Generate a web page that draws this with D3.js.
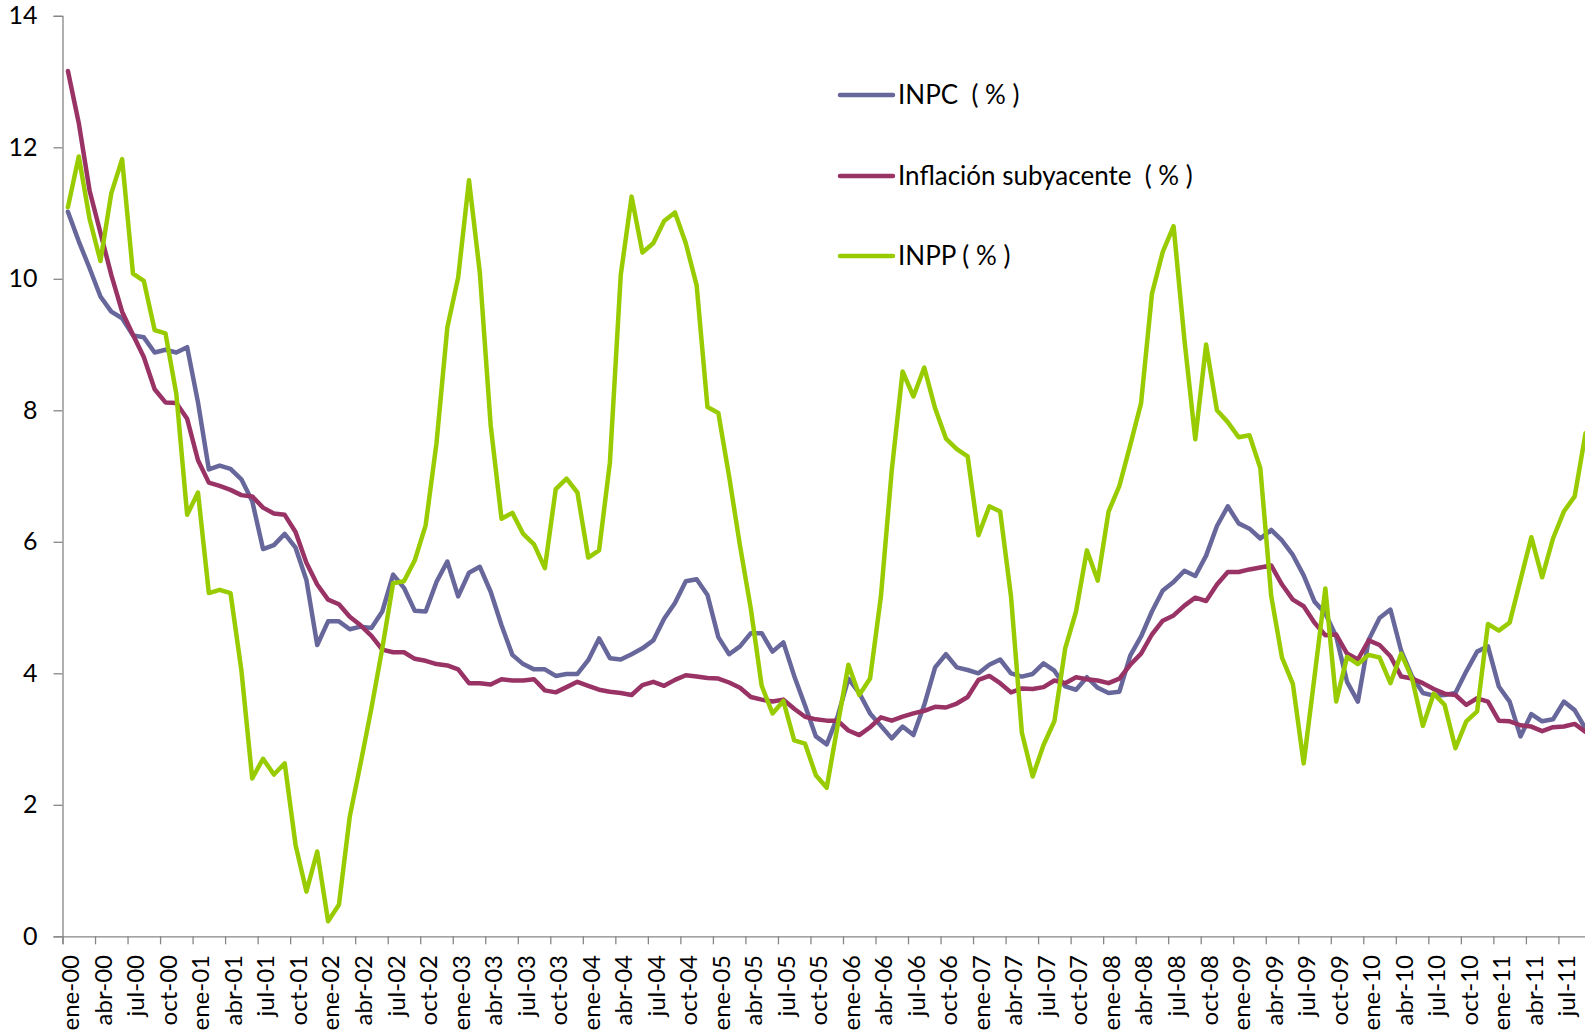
<!DOCTYPE html>
<html>
<head>
<meta charset="utf-8">
<script src="https://cdn.jsdelivr.net/npm/d3@7"></script>
<style>
  html, body { margin: 0; padding: 0; background: #fff; }
  svg { display: block; }
  text { font-family: Lato, "Open Sans", sans-serif; fill: #000; }
</style>
</head>
<body>
<svg id="chart" width="1585" height="1030"></svg>
<script>
// ---- data (monthly, ene-00 .. sep-11) ----
const monthNames = ["ene","feb","mar","abr","may","jun","jul","ago","sep","oct","nov","dic"];
const years = ["00","01","02","03","04","05","06","07","08","09","10","11"];
const categories = [];
years.forEach(y => monthNames.forEach(m => categories.push(m + "-" + y)));
categories.length = 141;

const inpc = [
  11.02, 10.57, 10.16, 9.73, 9.50, 9.40, 9.14, 9.11, 8.88, 8.92, 8.88, 8.96,
  8.12, 7.10, 7.16, 7.11, 6.95, 6.62, 5.89, 5.95, 6.12, 5.91, 5.42, 4.43,
  4.79, 4.79, 4.67, 4.71, 4.69, 4.94, 5.50, 5.30, 4.95, 4.94, 5.39, 5.70,
  5.17, 5.53, 5.62, 5.24, 4.73, 4.28, 4.14, 4.06, 4.06, 3.96, 3.99, 3.99,
  4.20, 4.53, 4.23, 4.21, 4.29, 4.38, 4.50, 4.83, 5.07, 5.40, 5.43, 5.19,
  4.55, 4.29, 4.41, 4.61, 4.61, 4.33, 4.47, 3.96, 3.51, 3.04, 2.92, 3.34,
  3.92, 3.70, 3.39, 3.20, 3.01, 3.19, 3.06, 3.52, 4.09, 4.29, 4.09, 4.05,
  4.00, 4.13, 4.21, 4.00, 3.95, 3.99, 4.15, 4.04, 3.80, 3.75, 3.94, 3.78,
  3.70, 3.72, 4.27, 4.56, 4.94, 5.26, 5.39, 5.56, 5.48, 5.79, 6.24, 6.54,
  6.28, 6.20, 6.05, 6.18, 6.02, 5.80, 5.49, 5.09, 4.91, 4.56, 3.87, 3.57,
  4.51, 4.84, 4.97, 4.34, 3.95, 3.70, 3.66, 3.67, 3.70, 4.03, 4.33, 4.41,
  3.80, 3.57, 3.04, 3.38, 3.27, 3.30, 3.57, 3.44, 3.16
];

const subyacente = [
  13.16, 12.37, 11.34, 10.70, 10.06, 9.50, 9.15, 8.81, 8.32, 8.12, 8.11, 7.87,
  7.24, 6.90, 6.85, 6.79, 6.71, 6.69, 6.52, 6.43, 6.41, 6.15, 5.68, 5.35,
  5.12, 5.05, 4.86, 4.73, 4.57, 4.36, 4.32, 4.32, 4.22, 4.19, 4.14, 4.12,
  4.06, 3.85, 3.85, 3.83, 3.91, 3.89, 3.89, 3.91, 3.74, 3.71, 3.79, 3.87,
  3.81, 3.75, 3.72, 3.70, 3.67, 3.82, 3.87, 3.81, 3.90, 3.97, 3.95, 3.93,
  3.92, 3.86, 3.78, 3.64, 3.60, 3.57, 3.60, 3.46, 3.34, 3.30, 3.28, 3.28,
  3.13, 3.06, 3.18, 3.33, 3.28, 3.34, 3.39, 3.43, 3.49, 3.48, 3.54, 3.64,
  3.90, 3.96, 3.85, 3.71, 3.77, 3.76, 3.79, 3.89, 3.85, 3.94, 3.91, 3.89,
  3.85, 3.92, 4.13, 4.30, 4.59, 4.80, 4.88, 5.03, 5.15, 5.10, 5.35, 5.54,
  5.54, 5.58, 5.61, 5.64, 5.35, 5.12, 5.02, 4.77, 4.58, 4.59, 4.30, 4.21,
  4.50, 4.43, 4.26, 3.95, 3.92, 3.85, 3.76, 3.69, 3.67, 3.52, 3.62, 3.57,
  3.28, 3.27, 3.21, 3.19, 3.12, 3.18, 3.19, 3.23, 3.11
];

const inpp = [
  11.09, 11.86, 10.91, 10.27, 11.30, 11.82, 10.08, 9.97, 9.22, 9.17, 8.25, 6.41,
  6.75, 5.22, 5.27, 5.22, 4.05, 2.40, 2.70, 2.46, 2.63, 1.39, 0.68, 1.29,
  0.23, 0.48, 1.82, 2.63, 3.47, 4.38, 5.37, 5.40, 5.72, 6.25, 7.50, 9.26,
  10.02, 11.50, 10.09, 7.77, 6.35, 6.44, 6.12, 5.96, 5.60, 6.80, 6.96, 6.75,
  5.76, 5.87, 7.21, 10.06, 11.25, 10.40, 10.54, 10.88, 11.01, 10.54, 9.90, 8.05,
  7.96, 6.99, 5.94, 4.98, 3.81, 3.39, 3.58, 2.98, 2.93, 2.45, 2.26, 3.20,
  4.13, 3.67, 3.92, 5.17, 7.09, 8.59, 8.21, 8.65, 8.03, 7.57, 7.41, 7.30,
  6.10, 6.54, 6.46, 5.17, 3.10, 2.43, 2.91, 3.27, 4.38, 4.94, 5.87, 5.41,
  6.46, 6.85, 7.47, 8.11, 9.77, 10.41, 10.80, 9.07, 7.56, 9.00, 8.00, 7.82,
  7.59, 7.62, 7.12, 5.18, 4.24, 3.84, 2.63, 3.95, 5.29, 3.57, 4.25, 4.14,
  4.28, 4.24, 3.85, 4.30, 3.92, 3.20, 3.69, 3.52, 2.86, 3.27, 3.42, 4.75,
  4.65, 4.77, 5.42, 6.07, 5.46, 6.05, 6.46, 6.69, 7.65
];

const yTicks = [0, 2, 4, 6, 8, 10, 12, 14];

const seriesNames = ["INPC  ( % )", "Inflación subyacente  ( % )", "INPP ( % )"];
const seriesColors = ["#67679b", "#993366", "#99cc00"];
const seriesData = [inpc, subyacente, inpp];

// ---- layout ----
const svg = d3.select("#chart");
const x0 = 62.5, monthW = 10.84;
const x = d3.scaleBand()
  .domain(d3.range(categories.length))
  .range([x0, x0 + categories.length * monthW])
  .paddingInner(0).paddingOuter(0);
const xb = d3.scaleLinear().domain([0, categories.length]).range([x0, x0 + categories.length * monthW]);
const y = d3.scaleLinear().domain([0, 14]).range([936.3, 15.8]);

const axisColor = "#868686";

// y axis
const yAxis = svg.append("g")
  .attr("transform", `translate(${x0},0)`)
  .call(d3.axisLeft(y).tickValues(yTicks).tickSize(9).tickPadding(16).tickFormat(d3.format("d")));
yAxis.select(".domain").attr("stroke", axisColor).attr("stroke-width", 1.3);
yAxis.selectAll(".tick line").attr("stroke", axisColor).attr("stroke-width", 1.3);
yAxis.selectAll(".tick text").attr("font-size", 25).attr("font-family", "Lato, sans-serif").attr("fill", "#000");

// x axis (ticks at category boundaries every 3 months)
const xAxis = svg.append("g")
  .attr("transform", `translate(0,${y(0)})`)
  .call(d3.axisBottom(xb).tickValues(d3.range(0, categories.length + 1, 3)).tickSize(8).tickFormat(""));
xAxis.select(".domain").attr("stroke", axisColor).attr("stroke-width", 1.3);
xAxis.selectAll(".tick line").attr("stroke", axisColor).attr("stroke-width", 1.3);

// x labels
svg.append("g").selectAll("text")
  .data(d3.range(0, categories.length, 3))
  .join("text")
  .attr("transform", i => `translate(${x(i) + x.bandwidth() / 2 + 3},955) rotate(-90)`)
  .attr("text-anchor", "end")
  .attr("dy", "0.35em")
  .attr("font-size", 24)
  .text(i => categories[i]);

// lines
const line = d3.line()
  .x((d, i) => x(i) + x.bandwidth() / 2)
  .y(d => y(d))
  .curve(d3.curveLinear);

svg.append("g").selectAll("path")
  .data(seriesData)
  .join("path")
  .attr("d", d => line(d))
  .attr("fill", "none")
  .attr("stroke", (d, i) => seriesColors[i])
  .attr("stroke-width", 4.5)
  .attr("stroke-linejoin", "round")
  .attr("stroke-linecap", "round");

// legend
const legendY = [95, 176, 256];
const lg = svg.append("g").selectAll("g")
  .data(seriesNames)
  .join("g")
  .attr("transform", (d, i) => `translate(0,${legendY[i]})`);
lg.append("line")
  .attr("x1", 840).attr("x2", 893)
  .attr("stroke", (d, i) => seriesColors[i])
  .attr("stroke-width", 4.5)
  .attr("stroke-linecap", "round");
lg.append("text")
  .attr("x", 898)
  .attr("dy", "0.35em")
  .attr("font-size", 26)
  .style("white-space", "pre")
  .text(d => d);
</script>
</body>
</html>
